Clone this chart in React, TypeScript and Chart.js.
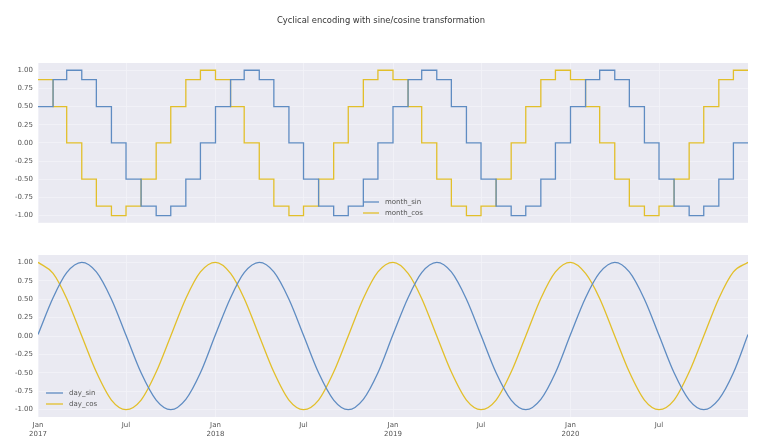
import React, { useEffect, useRef } from "react";
import { Chart, registerables } from "chart.js";

Chart.register(...registerables);

const TITLE = "Cyclical encoding with sine/cosine transformation";

// Month starts, 2017-01 .. 2020-12, plus the final day of the series
const monthStarts: string[] = [
  "2017-01-01", "2017-02-01", "2017-03-01", "2017-04-01", "2017-05-01", "2017-06-01",
  "2017-07-01", "2017-08-01", "2017-09-01", "2017-10-01", "2017-11-01", "2017-12-01",
  "2018-01-01", "2018-02-01", "2018-03-01", "2018-04-01", "2018-05-01", "2018-06-01",
  "2018-07-01", "2018-08-01", "2018-09-01", "2018-10-01", "2018-11-01", "2018-12-01",
  "2019-01-01", "2019-02-01", "2019-03-01", "2019-04-01", "2019-05-01", "2019-06-01",
  "2019-07-01", "2019-08-01", "2019-09-01", "2019-10-01", "2019-11-01", "2019-12-01",
  "2020-01-01", "2020-02-01", "2020-03-01", "2020-04-01", "2020-05-01", "2020-06-01",
  "2020-07-01", "2020-08-01", "2020-09-01", "2020-10-01", "2020-11-01", "2020-12-01",
  "2020-12-31",
];

const monthSin: number[] = [
  0.5, 0.87, 1.0, 0.87, 0.5, 0.0, -0.5, -0.87, -1.0, -0.87, -0.5, 0.0,
  0.5, 0.87, 1.0, 0.87, 0.5, 0.0, -0.5, -0.87, -1.0, -0.87, -0.5, 0.0,
  0.5, 0.87, 1.0, 0.87, 0.5, 0.0, -0.5, -0.87, -1.0, -0.87, -0.5, 0.0,
  0.5, 0.87, 1.0, 0.87, 0.5, 0.0, -0.5, -0.87, -1.0, -0.87, -0.5, 0.0,
  0.0,
];
const monthCos: number[] = [
  0.87, 0.5, 0.0, -0.5, -0.87, -1.0, -0.87, -0.5, 0.0, 0.5, 0.87, 1.0,
  0.87, 0.5, 0.0, -0.5, -0.87, -1.0, -0.87, -0.5, 0.0, 0.5, 0.87, 1.0,
  0.87, 0.5, 0.0, -0.5, -0.87, -1.0, -0.87, -0.5, 0.0, 0.5, 0.87, 1.0,
  0.87, 0.5, 0.0, -0.5, -0.87, -1.0, -0.87, -0.5, 0.0, 0.5, 0.87, 1.0,
  1.0,
];
const daySin: number[] = [
  0.02, 0.52, 0.86, 1.0, 0.87, 0.5, 0.01, -0.5, -0.87, -1.0, -0.86, -0.5,
  0.02, 0.52, 0.86, 1.0, 0.87, 0.5, 0.01, -0.5, -0.87, -1.0, -0.86, -0.5,
  0.02, 0.52, 0.86, 1.0, 0.87, 0.5, 0.01, -0.5, -0.87, -1.0, -0.86, -0.5,
  0.02, 0.52, 0.86, 1.0, 0.87, 0.5, 0.01, -0.5, -0.87, -1.0, -0.86, -0.5,
  0.02,
];
const dayCos: number[] = [
  1.0, 0.85, 0.51, 0.0, -0.49, -0.87, -1.0, -0.87, -0.49, 0.0, 0.51, 0.87,
  1.0, 0.85, 0.51, 0.0, -0.49, -0.87, -1.0, -0.87, -0.49, 0.0, 0.51, 0.87,
  1.0, 0.85, 0.51, 0.0, -0.49, -0.87, -1.0, -0.87, -0.49, 0.0, 0.51, 0.87,
  1.0, 0.85, 0.51, 0.0, -0.49, -0.87, -1.0, -0.87, -0.49, 0.0, 0.51, 0.87,
  1.0,
];

const xTickDates: string[] = [
  "2017-01-01", "2017-07-01", "2018-01-01", "2018-07-01",
  "2019-01-01", "2019-07-01", "2020-01-01", "2020-07-01",
];
const xTickLabels: (string | string[])[] = [
  ["Jan", "2017"], "Jul", ["Jan", "2018"], "Jul",
  ["Jan", "2019"], "Jul", ["Jan", "2020"], "Jul",
];
const yTicks: number[] = [-1, -0.75, -0.5, -0.25, 0, 0.25, 0.5, 0.75, 1];

const BLUE = "#5f8cc2";
const GOLD = "#e2bf2a";
const BG = "#eaeaf2";
const GRID = "#f3f3f8";
const FONT = "'DejaVu Sans', sans-serif";
const TXT = "#555555";

const base = Date.UTC(2017, 0, 1);
const dayOf = (s: string) => {
  const [y, m, d] = s.split("-").map(Number);
  return Math.round((Date.UTC(y, m - 1, d) - base) / 86400000);
};
const xs = monthStarts.map(dayOf);
const xTickVals = xTickDates.map(dayOf);
const X_MAX = dayOf("2020-12-31");

const pts = (vals: number[]) => vals.map((v, i) => ({ x: xs[i], y: v }));

const bgPlugin = {
  id: "bgFill",
  beforeDraw(chart: any) {
    const { ctx, chartArea } = chart;
    ctx.save();
    ctx.fillStyle = BG;
    ctx.fillRect(chartArea.left, chartArea.top, chartArea.right - chartArea.left, chartArea.bottom - chartArea.top);
    ctx.restore();
  },
};

function legendPlugin(items: { label: string; color: string }[], x: number, y: number, len: number, gap: number) {
  return {
    id: "customLegend",
    afterDraw(chart: any) {
      const ctx = chart.ctx;
      ctx.save();
      items.forEach((it, i) => {
        const yy = y + i * gap;
        ctx.strokeStyle = it.color;
        ctx.lineWidth = 1.3;
        ctx.beginPath();
        ctx.moveTo(x, yy);
        ctx.lineTo(x + len, yy);
        ctx.stroke();
        ctx.fillStyle = TXT;
        ctx.font = `7px ${FONT}`;
        ctx.textBaseline = "middle";
        ctx.textAlign = "left";
        ctx.fillText(it.label, x + len + 6, yy);
      });
      ctx.restore();
    },
  };
}

const titlePlugin = {
  id: "titleText",
  afterDraw(chart: any) {
    const ctx = chart.ctx;
    ctx.save();
    ctx.fillStyle = "#333333";
    ctx.font = `8.4px ${FONT}`;
    ctx.textAlign = "center";
    ctx.textBaseline = "middle";
    ctx.fillText(TITLE, 381, 21);
    ctx.restore();
  },
};

function makeScales(showX: boolean) {
  return {
    x: {
      type: "linear" as const,
      min: 0,
      max: X_MAX,
      afterBuildTicks: (s: any) => {
        s.ticks = xTickVals.map((v) => ({ value: v }));
      },
      afterFit: (s: any) => {
        s.height = showX ? 25 : 0;
      },
      grid: { color: GRID, lineWidth: 0.8, drawTicks: false },
      border: { display: false },
      ticks: {
        display: showX,
        padding: 4,
        maxRotation: 0,
        minRotation: 0,
        autoSkip: false,
        color: TXT,
        font: { size: 7, family: FONT, lineHeight: 1.25 },
        callback: (v: any) => {
          const i = xTickVals.indexOf(Number(v));
          return i >= 0 ? xTickLabels[i] : "";
        },
      },
    },
    y: {
      min: -1.1,
      max: 1.1,
      afterBuildTicks: (s: any) => {
        s.ticks = yTicks.map((v) => ({ value: v }));
      },
      afterFit: (s: any) => {
        s.width = 38;
      },
      grid: { color: GRID, lineWidth: 0.8, drawTicks: false },
      border: { display: false },
      ticks: {
        padding: 5,
        color: TXT,
        font: { size: 7, family: FONT },
        callback: (v: any) => Number(v).toFixed(2),
      },
    },
  };
}

function TopChart() {
  const ref = useRef<HTMLCanvasElement>(null);
  useEffect(() => {
    const chart = new Chart(ref.current!, {
      type: "line",
      data: {
        datasets: [
          { label: "month_sin", data: pts(monthSin), borderColor: BLUE, borderWidth: 1.3, pointRadius: 0, stepped: "before" },
          { label: "month_cos", data: pts(monthCos), borderColor: GOLD, borderWidth: 1.3, pointRadius: 0, stepped: "before" },
        ],
      },
      options: {
        animation: false,
        responsive: false,
        layout: { padding: { top: 63, right: 13, bottom: 7, left: 0 } },
        plugins: { legend: { display: false }, tooltip: { enabled: false } },
        scales: makeScales(false) as any,
      },
      plugins: [
        bgPlugin,
        titlePlugin,
        legendPlugin([{ label: "month_sin", color: BLUE }, { label: "month_cos", color: GOLD }], 363, 202, 16, 11),
      ],
    });
    return () => chart.destroy();
  }, []);
  return <canvas ref={ref} width={761} height={232} style={{ display: "block" }} />;
}

function BottomChart() {
  const ref = useRef<HTMLCanvasElement>(null);
  useEffect(() => {
    const chart = new Chart(ref.current!, {
      type: "line",
      data: {
        datasets: [
          { label: "day_sin", data: pts(daySin), borderColor: BLUE, borderWidth: 1.3, pointRadius: 0, cubicInterpolationMode: "monotone" },
          { label: "day_cos", data: pts(dayCos), borderColor: GOLD, borderWidth: 1.3, pointRadius: 0, cubicInterpolationMode: "monotone" },
        ],
      },
      options: {
        animation: false,
        responsive: false,
        layout: { padding: { top: 23, right: 13, bottom: 0, left: 0 } },
        plugins: { legend: { display: false }, tooltip: { enabled: false } },
        scales: makeScales(true) as any,
      },
      plugins: [
        bgPlugin,
        legendPlugin([{ label: "day_sin", color: BLUE }, { label: "day_cos", color: GOLD }], 46, 161, 17, 11),
      ],
    });
    return () => chart.destroy();
  }, []);
  return <canvas ref={ref} width={761} height={210} style={{ display: "block" }} />;
}

export default function App() {
  return (
    <div style={{ position: "fixed", left: 0, top: 0, width: 761, height: 442, background: "#ffffff" }}>
      <TopChart />
      <BottomChart />
    </div>
  );
}
